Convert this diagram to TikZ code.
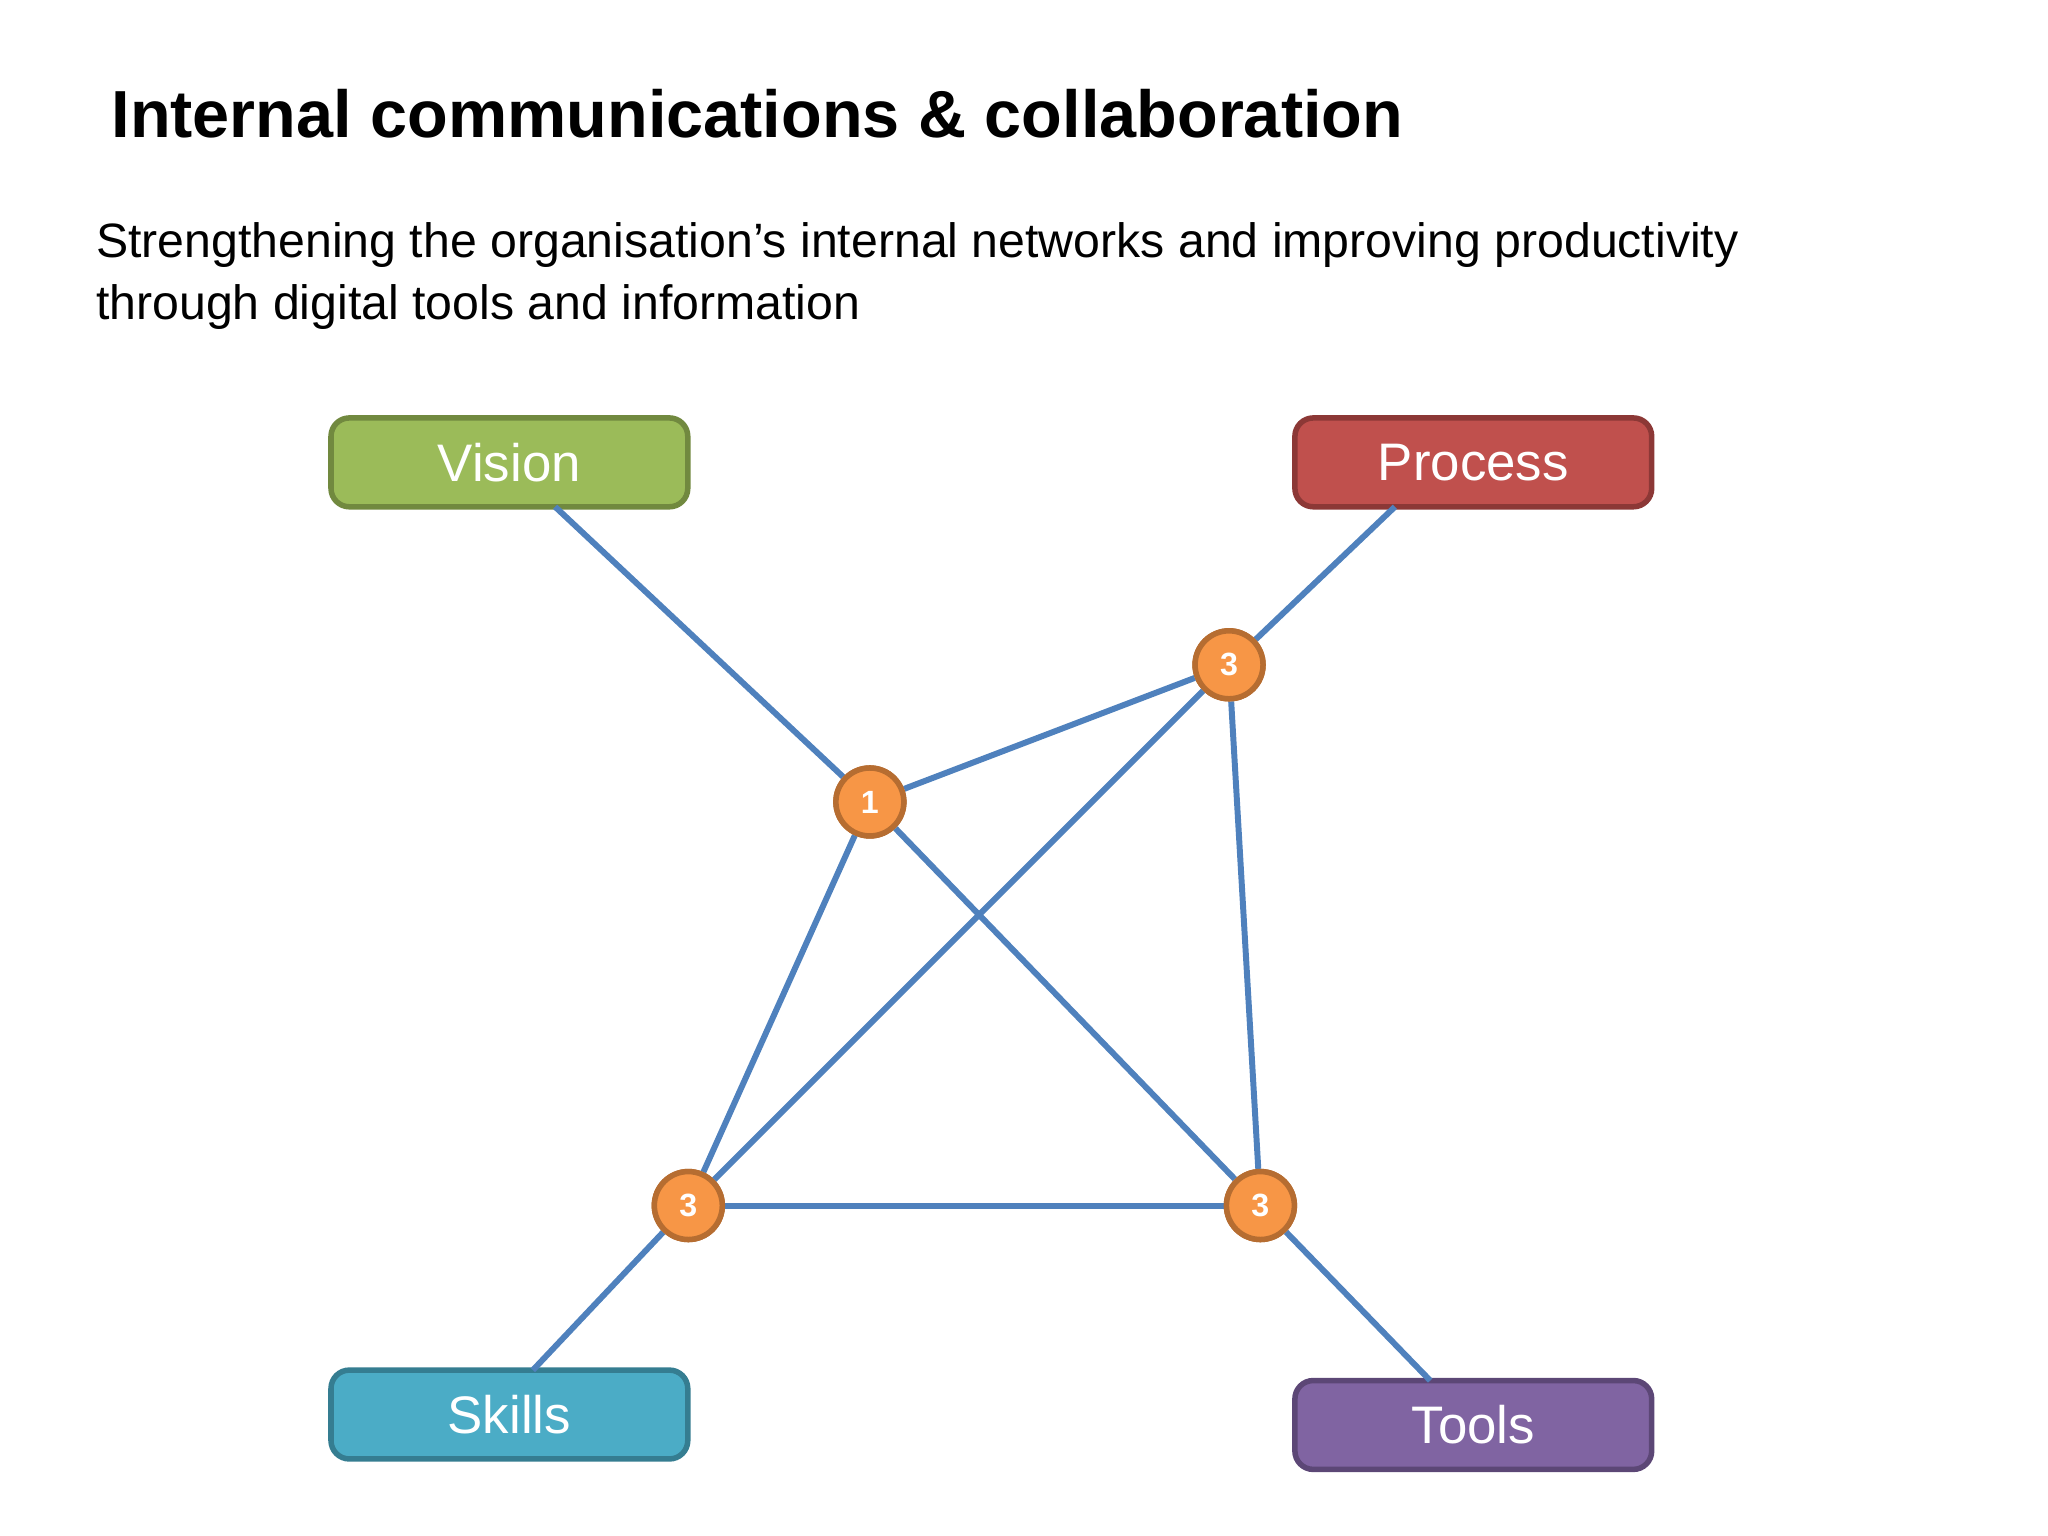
\documentclass[tikz,border=0pt]{standalone}
\usepackage{fontspec}
\setmainfont{Liberation Sans}
\begin{document}
\begin{tikzpicture}[x=0.01cm,y=-0.01cm,
 box/.style={draw,line width=1.2pt,rounded corners=4pt,minimum width=2.73cm,minimum height=0.68cm,text=white,font=\fontsize{11.5}{13}\selectfont},
 circ/.style={circle,draw=black!30!orange!80!brown,fill={rgb,255:red,247;green,150;blue,70},draw={rgb,255:red,182;green,109;blue,49},line width=1.2pt,minimum size=0.52cm,inner sep=0pt,text=white,font=\bfseries\fontsize{7}{8}\selectfont},
 ln/.style={draw={rgb,255:red,79;green,129;blue,189},line width=1.3pt}]
\useasboundingbox (0,0) rectangle (1568,1176);
\node[anchor=base west,font=\bfseries\fontsize{14.5}{17}\selectfont] (title) at (73,105) {Internal communications \& collaboration};
\node[anchor=north west,align=left,inner sep=0pt,font=\fontsize{10.5}{13.5}\selectfont] (sub) at (73,170) {Strengthening the organisation’s internal networks and improving productivity\\through digital tools and information};
\node[box,fill={rgb,255:red,155;green,187;blue,89},draw={rgb,255:red,113;green,137;blue,63}] (V) at (390,354) {Vision};
\node[box,fill={rgb,255:red,192;green,80;blue,77},draw={rgb,255:red,140;green,56;blue,54}] (P) at (1128,354) {Process};
\node[box,fill={rgb,255:red,75;green,172;blue,198},draw={rgb,255:red,53;green,125;blue,145}] (S) at (390,1083) {Skills};
\node[box,fill={rgb,255:red,128;green,100;blue,162},draw={rgb,255:red,92;green,71;blue,118}] (T) at (1128,1091) {Tools};
\coordinate (Va) at (425,388);
\coordinate (Pa) at (1068,388);
\coordinate (Sa) at (408,1049);
\coordinate (Ta) at (1095,1057);
\node[circ] (n1) at (666,614) {};
\node[circ] (p3) at (941,509) {};
\node[circ] (s3) at (527,923) {};
\node[circ] (t3) at (965,923) {};
\draw[ln] (Va) -- (n1) -- (t3) -- (Ta);
\draw[ln] (Pa) -- (p3);
\draw[ln] (p3) -- (n1);
\draw[ln] (p3) -- (s3);
\draw[ln] (p3) -- (t3);
\draw[ln] (n1) -- (s3);
\draw[ln] (s3) -- (t3);
\draw[ln] (s3) -- (Sa);
\node[circ] at (n1) {1};
\node[circ] at (p3) {3};
\node[circ] at (s3) {3};
\node[circ] at (t3) {3};
\end{tikzpicture}
\end{document}
